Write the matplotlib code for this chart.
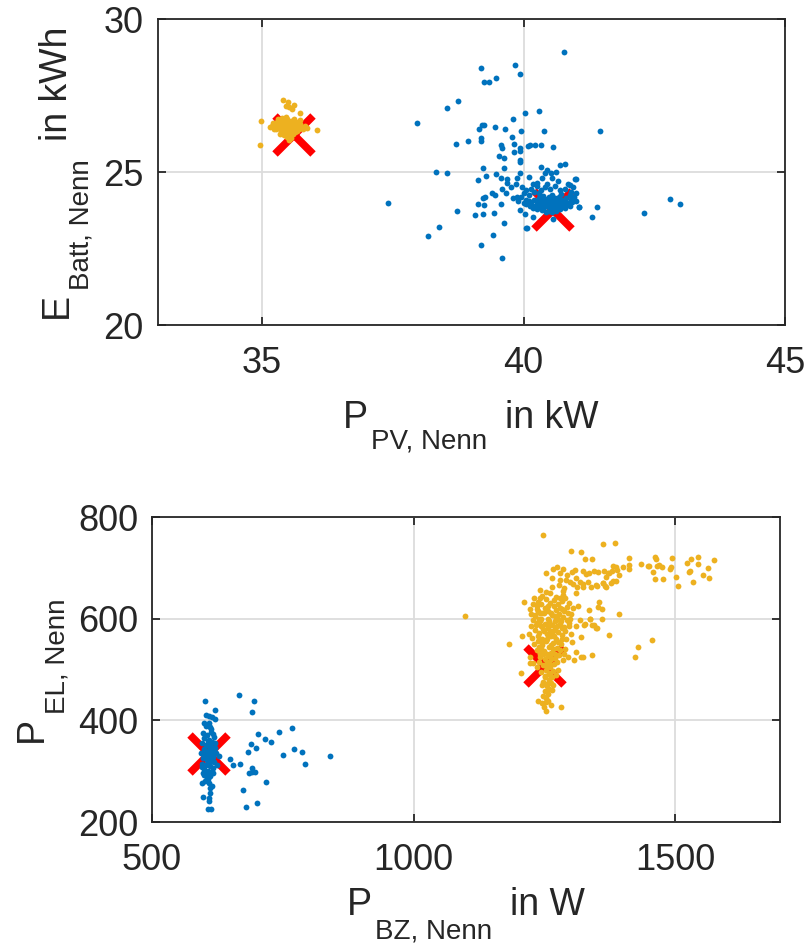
import matplotlib
matplotlib.use("Agg")
import matplotlib.pyplot as plt
from matplotlib.transforms import IdentityTransform

plt.rcParams["font.family"] = ["Liberation Sans", "DejaVu Sans"]

BLUE = "#0072BD"
ORANGE = "#EDB120"
RED = "#FF0000"
TXT = "#262626"

# ---- top plot: PV power vs battery capacity ----
pv_blue = [40.77, 39.83, 39.19, 39.94, 39.25, 39.34, 39.47, 38.74, 38.54, 37.96,
           40.02, 40.29, 39.80, 39.20, 39.25, 39.15, 39.45, 39.64, 39.95, 40.39,
           39.78, 38.93, 39.18, 39.18, 38.70, 39.57, 39.59, 39.81, 39.94, 39.93,
           40.08, 40.13, 40.22, 40.33, 40.57, 39.52, 39.62, 39.81, 39.93, 39.93,
           40.69, 40.79, 38.32, 38.54, 39.22, 39.62, 40.33, 39.29, 39.48, 39.12,
           39.56, 39.69, 39.69, 39.94, 40.11, 40.36, 40.41, 40.45, 40.53, 40.61,
           40.55, 40.99, 40.89, 37.40, 38.73, 39.12, 39.25, 39.23, 39.07, 39.44,
           39.56, 39.62, 38.38, 38.17, 39.41, 39.19, 39.58, 39.93, 40.03, 40.05,
           40.07, 40.18, 40.56, 41.05, 39.39, 39.46, 39.27, 39.22, 39.59, 39.67,
           39.76, 39.85, 39.88, 39.97, 40.05, 39.80, 39.88, 40.17, 40.25, 40.33,
           41.46, 42.80, 43.00, 42.31, 41.41, 41.31, 41.06, 41.00,
           40.00, 40.10, 40.20, 40.15, 40.30, 40.40, 40.50, 40.60, 40.70, 40.80,
           40.90, 39.95, 40.05, 39.90, 40.25, 40.45, 40.65, 40.85, 40.95, 41.00,
           40.10, 40.15, 40.20, 40.22, 40.25, 40.28, 40.30, 40.32, 40.35, 40.36,
           40.38, 40.40, 40.41, 40.43, 40.45, 40.46, 40.48, 40.50, 40.50, 40.52,
           40.53, 40.55, 40.56, 40.58, 40.60, 40.60, 40.62, 40.64, 40.65, 40.67,
           40.68, 40.70, 40.72, 40.74, 40.75, 40.78, 40.80, 40.82, 40.85, 40.88,
           40.90, 40.93, 40.96, 41.00, 40.35, 40.42, 40.48, 40.55, 40.62, 40.25,
           40.18, 40.12, 40.05, 40.00, 40.38, 40.55, 40.72, 40.88, 40.44, 40.58,
           40.66, 40.50, 40.39, 40.70, 40.80]
batt_blue = [28.92, 28.50, 28.39, 28.20, 27.93, 27.93, 28.08, 27.31, 27.08, 26.60,
             26.94, 26.99, 26.75, 26.54, 26.54, 26.40, 26.46, 26.42, 26.34, 26.33,
             26.15, 26.02, 26.10, 26.02, 25.91, 25.87, 25.77, 25.91, 25.77, 25.70,
             25.85, 25.89, 25.87, 25.90, 25.81, 25.54, 25.46, 25.64, 25.39, 25.33,
             25.23, 25.27, 25.01, 24.98, 25.13, 25.12, 25.17, 24.87, 24.95, 24.74,
             24.79, 24.77, 24.63, 24.98, 24.85, 24.79, 24.98, 25.06, 24.98, 25.01,
             24.79, 24.77, 24.57, 23.99, 23.74, 23.94, 23.92, 23.64, 23.58, 23.67,
             23.94, 23.33, 23.22, 22.90, 22.94, 22.60, 22.19, 23.75, 23.62, 23.17,
             23.18, 23.53, 23.45, 23.85, 24.32, 24.24, 24.17, 24.14, 24.43, 24.32,
             24.52, 24.61, 24.79, 24.52, 24.41, 24.14, 24.19, 24.61, 24.55, 24.41,
             26.33, 24.11, 23.96, 23.67, 23.86, 23.53, 23.85, 24.77,
             24.30, 24.25, 24.35, 24.45, 24.30, 24.50, 24.45, 24.55, 24.40, 24.45,
             24.35, 24.20, 24.10, 24.05, 24.65, 24.62, 24.70, 24.62, 24.50, 24.30,
             24.05, 23.95, 24.10, 23.90, 24.02, 23.85, 24.15, 23.98, 24.08, 23.92,
             23.80, 24.00, 24.12, 23.88, 24.05, 23.95, 24.18, 23.84, 24.02, 23.92,
             24.10, 23.98, 23.78, 24.05, 23.90, 24.15, 24.00, 23.86, 24.08, 23.95,
             24.20, 24.02, 23.88, 24.10, 23.97, 24.05, 23.92, 24.15, 24.00, 23.90,
             24.10, 24.02, 24.18, 24.05, 23.75, 23.70, 23.72, 23.68, 23.74, 23.78,
             23.82, 23.88, 23.95, 24.00, 24.22, 24.25, 24.28, 24.24, 23.98, 23.96,
             24.12, 24.14, 23.94, 23.80, 23.82]

pv_orange = [35.40, 35.50, 35.46, 35.52, 35.57, 35.60, 34.98, 34.95, 36.04, 35.73,
             35.72, 35.20, 35.25, 35.22, 35.28, 35.30, 35.32, 35.35, 35.36, 35.38,
             35.40, 35.42, 35.44, 35.45, 35.47, 35.48, 35.50, 35.52, 35.53, 35.55,
             35.56, 35.58, 35.60, 35.62, 35.63, 35.65, 35.67, 35.70, 35.72, 35.75,
             35.78, 35.82, 35.86, 35.50, 35.55, 35.52, 35.48, 35.58, 35.45, 35.38,
             35.30, 35.18, 35.15, 35.60, 35.66, 35.42, 35.35,
             35.25, 35.33, 35.41, 35.49, 35.57, 35.64, 35.31, 35.39, 35.47, 35.55,
             35.63, 35.71, 35.43, 35.51, 35.59, 35.48, 35.56, 35.34, 35.27, 35.69]
batt_orange = [27.36, 27.28, 27.15, 27.12, 27.06, 27.19, 26.68, 25.87, 26.37, 26.92,
               26.70, 26.60, 26.50, 26.40, 26.65, 26.55, 26.45, 26.70, 26.35, 26.60,
               26.50, 26.40, 26.62, 26.30, 26.55, 26.72, 26.45, 26.60, 26.35, 26.50,
               26.68, 26.40, 26.55, 26.30, 26.62, 26.45, 26.52, 26.40, 26.58, 26.48,
               26.42, 26.50, 26.45, 26.20, 26.12, 26.05, 26.25, 26.25, 26.80, 26.78,
               26.72, 26.52, 26.46, 26.75, 26.35, 26.20, 26.25,
               26.58, 26.62, 26.56, 26.63, 26.58, 26.55, 26.48, 26.43, 26.47, 26.42,
               26.40, 26.45, 26.33, 26.38, 26.33, 26.15, 26.30, 26.52, 26.40, 26.62]

pv_opt = [35.6, 40.57]
batt_opt = [26.2, 23.75]

# ---- bottom plot: fuel cell vs electrolyser power ----
bz_blue = [666.7, 601.8, 694.0, 690.8, 620.2, 603.0, 609.4, 613.9, 620.2, 609.4,
           610.7, 702.9, 742.4, 767.2, 715.0, 727.7, 689.6, 698.5, 683.2, 749.4,
           770.4, 785.6, 792.0, 841.0, 648.9, 655.2, 667.3, 628.5, 690.2, 690.8,
           685.1, 695.9, 718.2, 674.3, 701.0, 678.8, 598.0, 609.4, 608.8, 610.7,
           607.5, 612.0, 595.4, 610.7, 613.9, 599.9, 604.3, 617.0,
           598, 605, 612, 618, 600, 608, 615, 596, 603, 611,
           620, 599, 606, 614, 594, 602, 609, 617, 622, 598,
           605, 612, 619, 596, 603, 610, 616, 600, 607, 614,
           597, 604, 611, 606, 601, 608, 612, 604, 599, 607,
           610, 604, 608, 613, 601, 616, 595, 620, 624]
el_blue = [449.1, 438.6, 438.0, 416.3, 420.3, 410.4, 408.5, 405.9, 402.6, 394.1,
           386.2, 373.1, 377.7, 384.9, 362.6, 358.0, 354.1, 344.9, 338.3, 331.1,
           342.9, 337.7, 313.4, 330.4, 323.9, 312.1, 314.7, 330.4, 305.5, 299.0,
           297.0, 297.6, 278.0, 262.9, 236.7, 230.1, 249.8, 246.5, 241.9, 256.3,
           226.2, 224.9, 276.0, 266.2, 270.8, 292.4, 285.9, 297.0,
           375, 372, 378, 368, 365, 362, 358, 355, 352, 350,
           346, 344, 340, 338, 335, 332, 330, 328, 335, 325,
           322, 320, 318, 315, 312, 310, 306, 304, 300, 298,
           296, 294, 290, 284, 280, 276, 383, 388, 395, 360,
           345, 326, 316, 348, 342, 373, 308, 356, 312]

bz_orange = [1247.4, 1361.3, 1384.9, 1300.2, 1320.6, 1327.0, 1341.6, 1253.2, 1265.9, 1273.5,
             1285.0, 1278.6, 1292.6, 1302.8, 1307.9, 1323.2, 1329.5, 1335.9, 1345.4, 1352.4,
             1364.5, 1370.9, 1379.1, 1386.8, 1264.6, 1278.6, 1290.1, 1297.7, 1310.4, 1316.8,
             1323.2, 1332.7, 1348.6, 1362.6, 1380.4, 1264.6, 1277.2, 1286.3, 1304.1, 1311.7,
             1324.4, 1339.1, 1349.9, 1366.4, 1377.2, 1240.5, 1253.2, 1260.8, 1272.3, 1285.0,
             1309.2, 1209.9, 1221.4, 1231.0, 1237.3, 1292.6, 1304.1, 1314.2, 1335.9, 1355.0,
             1351.8, 1359.4, 1316.8, 1328.2, 1337.1, 1345.4, 1349.9, 1360.0, 1374.0, 1320.6,
             1340.3, 1320.0, 1307.2, 1294.5, 1310.4, 1182.0, 1206.1, 1204.8, 1221.4, 1222.6,
             1227.7, 1237.3, 1245.6, 1253.2, 1248.7, 1252.5, 1280.5, 1097.9,
             1412.2, 1435.1, 1447.2, 1450.4, 1460.6, 1463.7, 1465.0, 1469.5, 1474.6, 1456.7,
             1460.6, 1475.8, 1493.6, 1492.4, 1490.5, 1501.3, 1505.7, 1522.3, 1530.5, 1543.3,
             1543.9, 1526.7, 1528.0, 1533.1, 1552.2, 1562.4, 1564.9, 1574.4, 1410.9, 1412.2,
             1399.5, 1393.1, 1386.8, 1380.4, 1388.0, 1374.1, 1367.7, 1361.3, 1367.7, 1392.5,
             1337.8, 1326.3, 1341.0, 1348.6, 1456.1, 1428.1, 1423.7, 1323.2,
             1230, 1238, 1245, 1252, 1260, 1268, 1275, 1283, 1290, 1235,
             1242, 1250, 1257, 1264, 1271, 1278, 1286, 1294, 1228, 1236,
             1244, 1251, 1258, 1265, 1272, 1280, 1288, 1296, 1232, 1240,
             1247, 1254, 1261, 1268, 1275, 1283, 1291, 1226, 1238, 1245,
             1252, 1259, 1266, 1273, 1281, 1289, 1235, 1242, 1249, 1256,
             1263, 1270, 1277, 1286, 1240, 1247, 1254, 1261, 1268, 1275,
             1244, 1251, 1258, 1265, 1272, 1248, 1255, 1262, 1250, 1257,
             1264, 1253, 1260, 1246, 1262, 1256, 1249, 1270, 1243, 1255,
             1266, 1252, 1258, 1247, 1262, 1239, 1276, 1284, 1298, 1300,
             1232, 1224, 1220, 1229, 1236, 1245, 1267, 1270, 1257, 1279,
             1286, 1296, 1302, 1310,
             1236, 1244, 1253, 1262, 1270, 1279, 1288, 1233, 1241, 1249,
             1257, 1266, 1274, 1282, 1238, 1246, 1255, 1263, 1271, 1279,
             1241, 1250, 1258, 1266, 1274, 1252, 1259, 1248, 1256, 1262,
             1244, 1270, 1284, 1290, 1296, 1300, 1228, 1225, 1240, 1261,
             1268, 1276, 1254, 1260, 1250, 1246, 1283, 1292, 1287, 1242]
el_orange = [765.3, 746.9, 748.2, 732.5, 731.2, 716.7, 716.7, 689.2, 698.4, 701.0,
             698.4, 689.2, 686.6, 692.5, 695.8, 694.5, 687.9, 689.2, 693.1, 691.8,
             693.1, 689.2, 694.5, 702.3, 679.4, 676.1, 676.1, 672.8, 679.4, 672.8,
             668.2, 672.8, 666.2, 670.8, 674.8, 661.7, 666.2, 661.0, 668.2, 663.0,
             661.7, 661.7, 664.3, 664.3, 669.5, 656.4, 653.1, 649.9, 643.3, 646.6,
             649.9, 633.5, 618.4, 607.2, 615.8, 623.6, 620.4, 625.0, 617.1, 632.8,
             622.3, 618.4, 597.4, 589.5, 598.7, 586.9, 581.0, 598.7, 567.9, 564.6,
             528.6, 525.3, 518.7, 525.3, 535.1, 549.5, 565.9, 493.8, 512.2, 525.3,
             513.5, 438.7, 434.8, 436.1, 425.6, 418.4, 425.6, 605.0,
             718.7, 707.5, 703.6, 703.6, 720.7, 717.4, 703.6, 705.6, 701.0, 692.5,
             678.7, 678.7, 720.0, 702.3, 698.4, 682.6, 664.2, 709.5, 716.7, 722.0,
             707.5, 691.8, 693.8, 671.5, 685.3, 700.3, 680.7, 714.7, 704.9, 697.0,
             701.0, 686.6, 674.8, 703.6, 695.7, 689.2, 682.6, 670.8, 661.6, 609.8,
             599.3, 586.9, 586.9, 581.6, 558.0, 543.6, 523.9, 525.2,
             640, 632, 645, 638, 630, 636, 628, 634, 640, 620,
             612, 622, 615, 608, 618, 610, 604, 612, 598, 592,
             600, 590, 596, 588, 598, 590, 584, 592, 578, 572,
             580, 570, 576, 566, 574, 568, 560, 562, 556, 548,
             556, 545, 552, 542, 550, 540, 538, 530, 537, 526,
             532, 522, 528, 518, 515, 508, 514, 504, 510, 500,
             495, 488, 494, 485, 490, 475, 468, 474, 458, 452,
             460, 444, 490, 560, 565, 600, 612, 580, 585, 530,
             540, 500, 480, 530, 520, 545, 555, 582, 600, 570,
             605, 585, 570, 550, 505, 470, 470, 596, 625, 640,
             655, 630, 555, 585,
             625, 628, 618, 612, 605, 622, 615, 588, 595, 575,
             582, 575, 585, 596, 565, 552, 560, 548, 560, 538,
             525, 520, 512, 498, 515, 472, 462, 448, 438, 430,
             540, 530, 560, 575, 585, 610, 628, 610, 600, 590,
             625, 600, 505, 526, 485, 612, 620, 598, 530, 640]

bz_opt = [609, 1250]
el_opt = [334, 507]


def style_axes(ax, xlim, ylim, xticks, yticks):
    ax.set_xlim(xlim)
    ax.set_ylim(ylim)
    ax.set_xticks(xticks)
    ax.set_yticks(yticks)
    ax.grid(True, color="#dcdcdc", linewidth=1.3, zorder=0)
    ax.set_axisbelow(True)
    for sp in ax.spines.values():
        sp.set_linewidth(1.3)
        sp.set_color(TXT)
    ax.tick_params(direction="in", length=5.5, width=1.3, colors=TXT,
                   labelsize=26, top=True, right=True)
    ax.tick_params(axis="x", pad=15)
    ax.tick_params(axis="y", pad=10)


def tex_label(fig, parts, base, center, rotation=0):
    # parts: (text, size, drop in px, gap before in px)
    r = fig.canvas.get_renderer()
    items = []
    total = 0
    for s, size, drop, gap in parts:
        t = fig.text(0, 0, s, fontsize=size, color=TXT, transform=IdentityTransform(),
                     ha="left", va="baseline", rotation_mode="anchor")
        w = t.get_window_extent(r).width
        total += gap
        items.append((t, total, drop))
        total += w
    start = center - total / 2
    for t, off, drop in items:
        if rotation == 0:
            t.set_position((start + off, base - drop))
        else:
            t.set_rotation(90)
            t.set_position((base + drop, start + off))


fig = plt.figure(figsize=(8.07, 9.49), dpi=100)

ax1 = fig.add_axes([0.1953, 0.6575, 0.7775, 0.3224])
ax1.plot(pv_opt, batt_opt, linestyle="none", marker="x", markersize=27,
         markeredgewidth=5.5, color=RED, zorder=2)
ax1.plot(pv_blue, batt_blue, linestyle="none", marker="o", markersize=4.2,
         markeredgewidth=0, color=BLUE, zorder=3)
ax1.plot(pv_orange, batt_orange, linestyle="none", marker="o", markersize=4.2,
         markeredgewidth=0, color=ORANGE, zorder=3)
style_axes(ax1, (33, 45), (20, 30), [35, 40, 45], [20, 25, 30])

ax2 = fig.add_axes([0.1884, 0.1338, 0.7782, 0.3214])
ax2.plot(bz_opt, el_opt, linestyle="none", marker="x", markersize=27,
         markeredgewidth=5.5, color=RED, zorder=2)
ax2.plot(bz_blue, el_blue, linestyle="none", marker="o", markersize=4.2,
         markeredgewidth=0, color=BLUE, zorder=3)
ax2.plot(bz_orange, el_orange, linestyle="none", marker="o", markersize=4.2,
         markeredgewidth=0, color=ORANGE, zorder=3)
style_axes(ax2, (500, 1700), (200, 800), [500, 1000, 1500], [200, 400, 600, 800])

tex_label(fig, [("P", 27, 0, 0), ("PV, Nenn", 20, 21, 3), ("in kW", 27, 0, 18)],
          base=521, center=471)
tex_label(fig, [("E", 27, 0, 0), ("Batt, Nenn", 20, 22, 3), ("in kWh", 27, 0, 18)],
          base=67, center=777, rotation=90)
tex_label(fig, [("P", 27, 0, 0), ("BZ, Nenn", 20, 24, 3), ("in W", 27, 0, 18)],
          base=34, center=466)
tex_label(fig, [("P", 27, 0, 0), ("EL, Nenn", 20, 22, 3)],
          base=42, center=279, rotation=90)

fig.savefig("out.png", dpi=100)
